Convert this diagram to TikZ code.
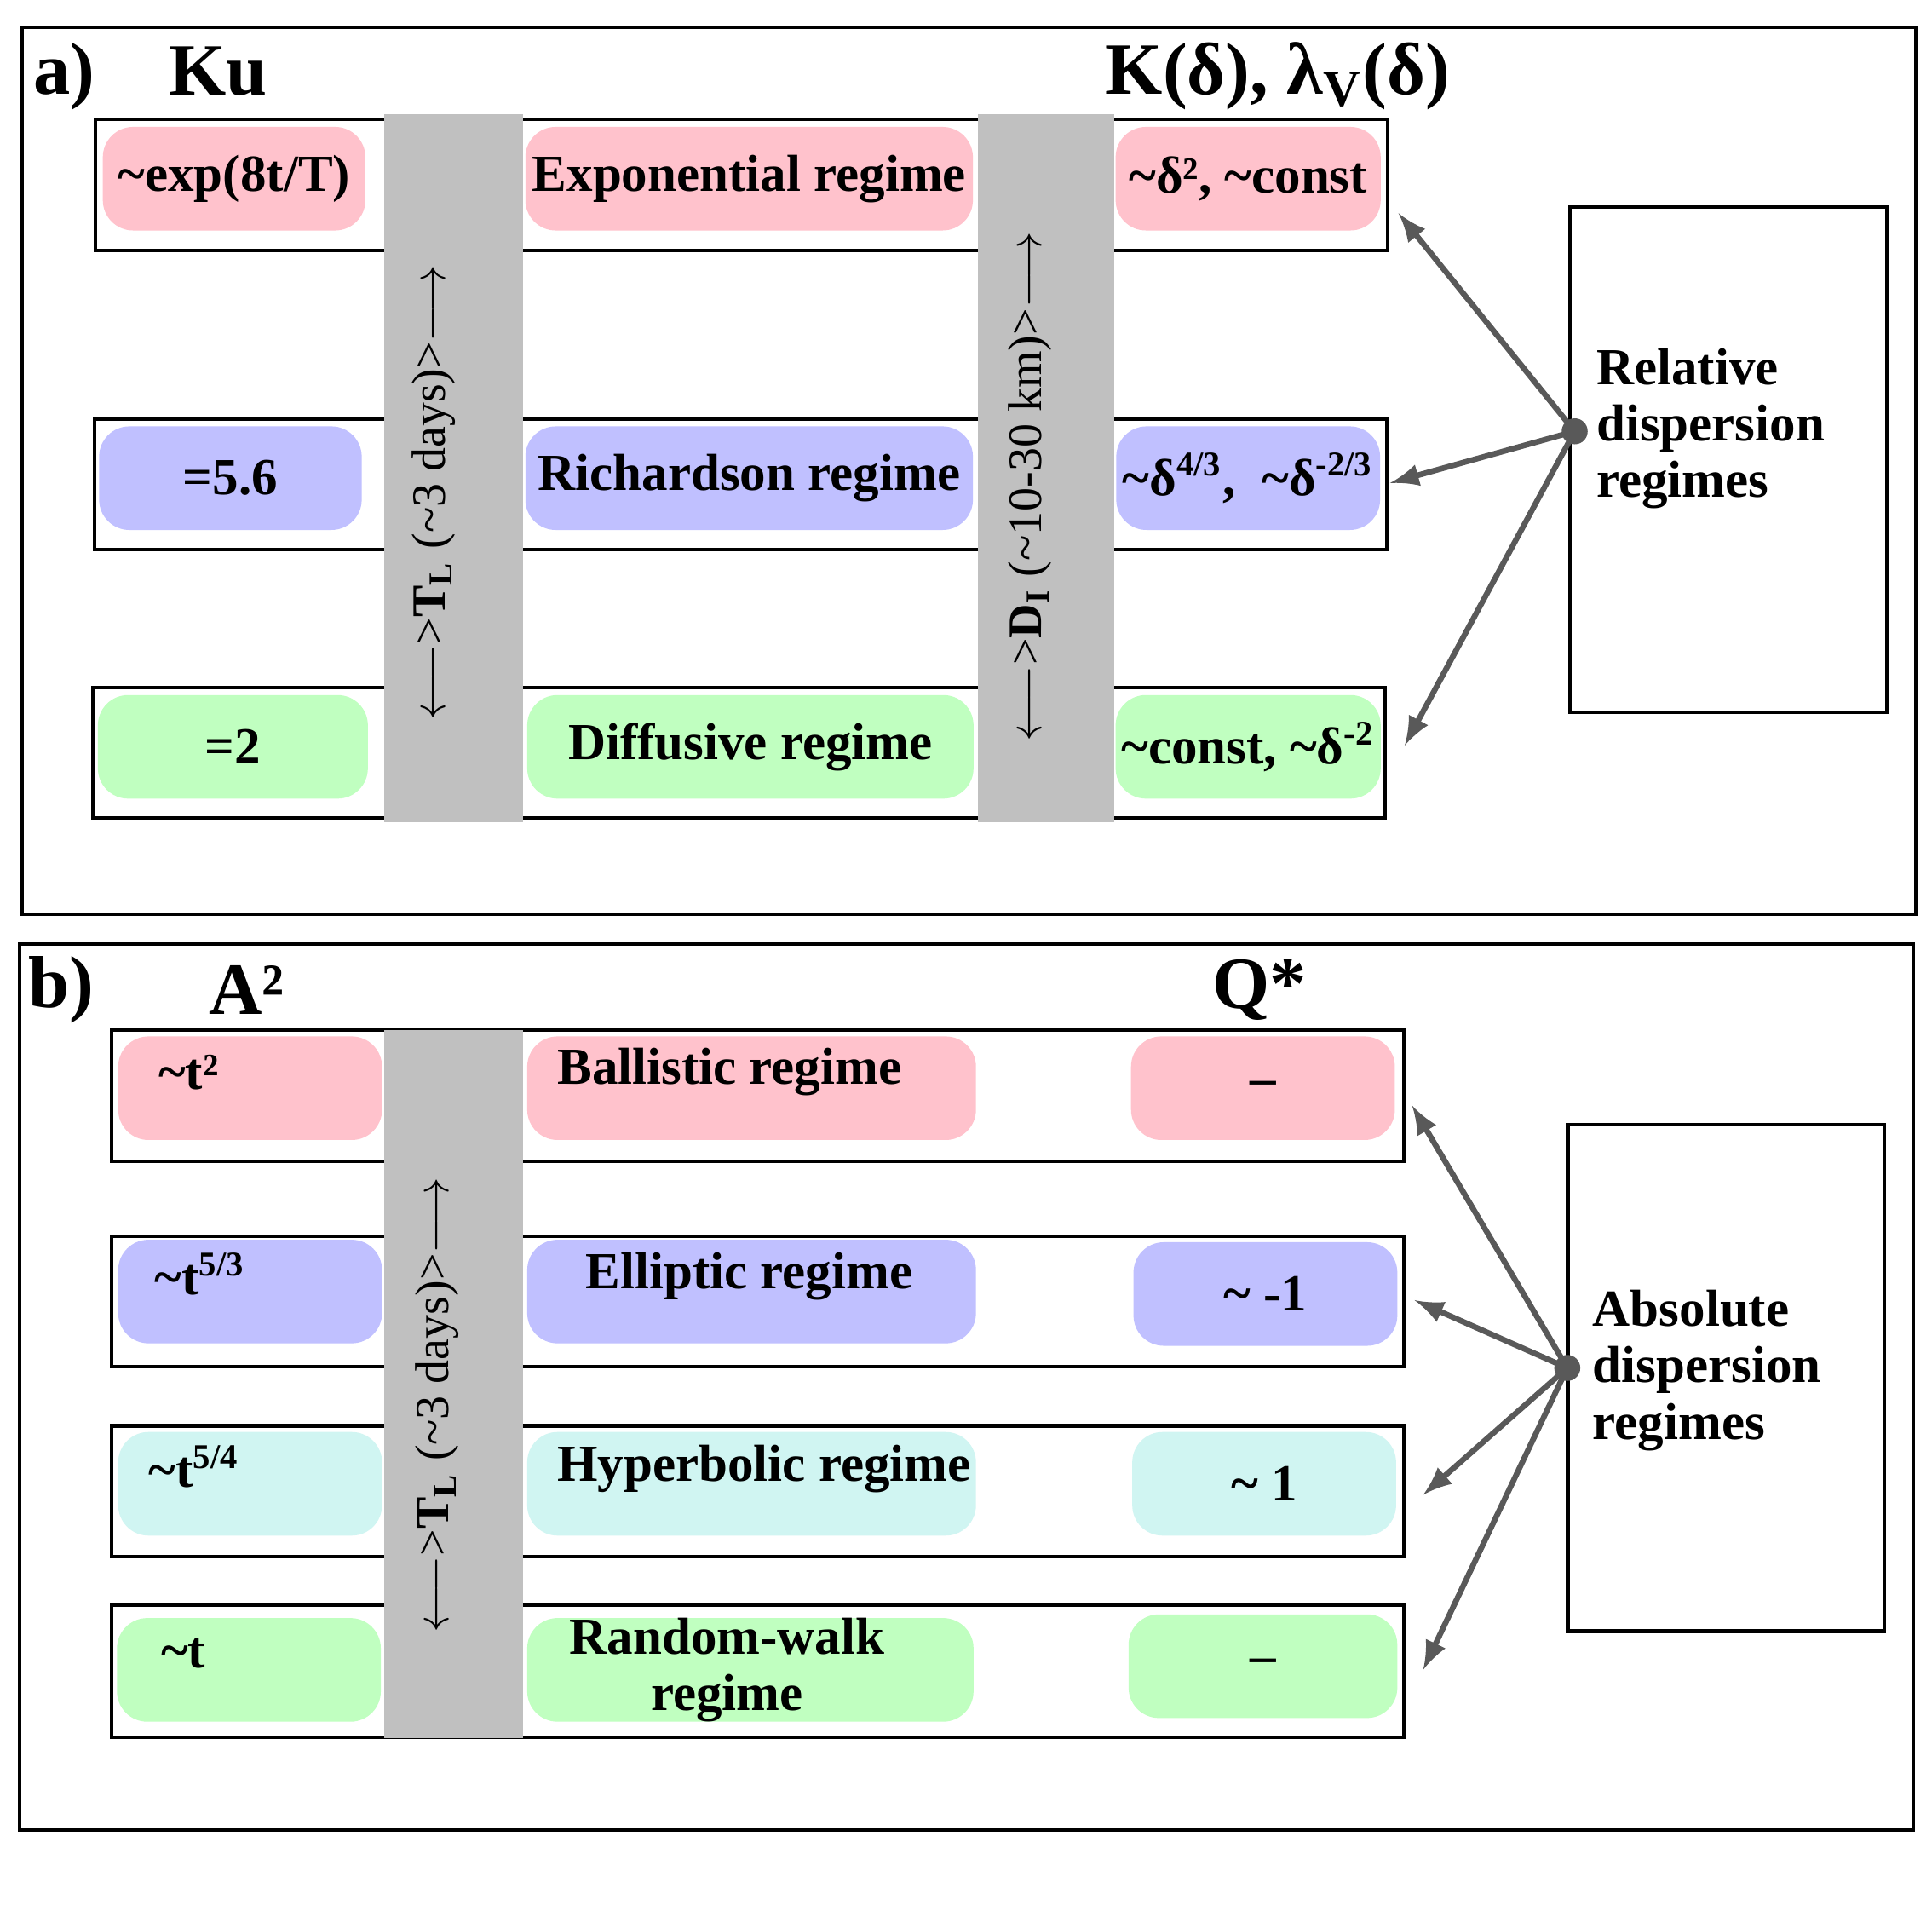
\documentclass[tikz,border=0pt]{standalone}
\usepackage{fontspec}
\setmainfont{Liberation Serif}
\usetikzlibrary{positioning}
\definecolor{rosa}{HTML}{FFC2CC}
\definecolor{azul}{HTML}{C0C0FF}
\definecolor{verde}{HTML}{C0FFC0}
\definecolor{cian}{HTML}{D0F5F2}
\definecolor{barra}{HTML}{C0C0C0}
\tikzstyle{Marco}=[draw=black, line width=0.8pt]
\tikzstyle{Fila}=[rectangle, draw=black, fill=white, line width=0.8pt, minimum width=10.48cm, minimum height=1.06cm, inner sep=0pt]
\tikzstyle{Barra}=[rectangle, fill=barra, minimum height=5.74cm, inner sep=0pt]
\tikzstyle{Caja}=[rectangle, rounded corners=7pt, minimum height=0.84cm, inner sep=0pt, font=\bfseries\fontsize{12}{13}\selectfont, align=center]
\tikzstyle{Titulo}=[font=\bfseries\fontsize{17}{18}\selectfont, inner sep=0pt]
\tikzstyle{Vertical}=[rotate=90, font=\fontsize{11}{12}\selectfont, inner sep=0pt]
\tikzstyle{Flecha}=[-latex, draw=black!65, line width=1.3pt]
\newcommand{\tld}{\textasciitilde}
\begin{document}
\begin{tikzpicture}[x=0.01cm, y=-0.01cm]
			\useasboundingbox (0,0) rectangle (1568,1560);
			\fill[white] (0,0) rectangle (1568,1560);
			%Marcos
			\draw[Marco] (18,22) rectangle (1555,742);
			\draw[Marco] (16,766) rectangle (1553,1485);

			%Panel a
			\node[Fila] (filaA1) at (602,150) {};
			\node[Fila] (filaA2) at (601,393) {};
			\node[Fila] (filaA3) at (600,611) {};
			\node[Barra, minimum width=1.13cm] (barraA1) at (368,380) {};
			\node[Barra, minimum width=1.10cm] (barraA2) at (849,380) {};

			\node[Caja, fill=rosa, minimum width=2.13cm] (kuA1) at (190,145) {\tld exp(8t/T)};
			\node[Caja, fill=rosa, minimum width=3.63cm] (regA1) at (608,145) {Exponential regime};
			\node[Caja, fill=rosa, minimum width=2.15cm] (kA1) at (1013,145) {\tld δ², \tld const};

			\node[Caja, fill=azul, minimum width=2.13cm] (kuA2) at (187,388) {=5.6};
			\node[Caja, fill=azul, minimum width=3.63cm] (regA2) at (608,388) {Richardson regime};
			\node[Caja, fill=azul, minimum width=2.14cm] (kA2) at (1013,388) {\tld δ\textsuperscript{4/3}, \ \tld δ\textsuperscript{-2/3}};

			\node[Caja, fill=verde, minimum width=2.19cm] (kuA3) at (189,606) {=2};
			\node[Caja, fill=verde, minimum width=3.62cm] (regA3) at (609,606) {Diffusive regime};
			\node[Caja, fill=verde, minimum width=2.15cm] (kA3) at (1013,606) {\tld const, \tld δ\textsuperscript{-2}};

			\node[Vertical] (tlA) at (352,400) {$\longleftarrow$>\textbf{T\textsubscript{L}} (\tld 3 days)>$\longrightarrow$};
			\node[Vertical] (dlA) at (836,395) {$\longleftarrow$>\textbf{D\textsubscript{I}} (\tld 10-30 km)>$\longrightarrow$};

			\node[Titulo] (etqA) at (52,62) {a)};
			\node[Titulo] (kuA) at (177,58) {Ku};
			\node[Titulo] (kA) at (1037,62) {K(δ), λ\textsubscript{V}(δ)};

			\node[Marco, rectangle, minimum width=2.57cm, minimum height=4.10cm, inner sep=0pt] (relA) at (1403,373) {};
			\node[Caja, align=left, anchor=west] (relTxt) at (1295,348) {Relative\\dispersion\\regimes};
			\coordinate (hubA) at (1278,350);
			\coordinate (dstA1) at (1135,173);
			\coordinate (dstA2) at (1128,392);
			\coordinate (dstA3) at (1140,605);

			%Panel b
			\node[Fila] (filaB1) at (615,889) {};
			\node[Fila] (filaB2) at (615,1056) {};
			\node[Fila] (filaB3) at (615,1210) {};
			\node[Fila, minimum height=1.07cm] (filaB4) at (615,1356) {};
			\node[Barra, minimum width=1.13cm] (barraB) at (368,1123) {};

			\node[Caja, fill=rosa, minimum width=2.14cm] (aB1) at (203,883) {};
			\node[Caja, anchor=west] (aTxt1) at (128,870) {\tld t²};
			\node[Caja, fill=rosa, minimum width=3.64cm] (regB1) at (610,883) {};
			\node[Caja] (regTxt1) at (592,870) {Ballistic regime};
			\node[Caja, fill=rosa, minimum width=2.14cm] (qB1) at (1025,883) {–};

			\node[Caja, fill=azul, minimum width=2.14cm] (aB2) at (203,1048) {};
			\node[Caja, anchor=west] (aTxt2) at (125,1034) {\tld t\textsuperscript{5/3}};
			\node[Caja, fill=azul, minimum width=3.64cm] (regB2) at (610,1048) {};
			\node[Caja] (regTxt2) at (608,1036) {Elliptic regime};
			\node[Caja, fill=azul, minimum width=2.14cm] (qB2) at (1027,1050) {\tld{} -1};

			\node[Caja, fill=cian, minimum width=2.14cm] (aB3) at (203,1204) {};
			\node[Caja, anchor=west] (aTxt3) at (120,1190) {\tld t\textsuperscript{5/4}};
			\node[Caja, fill=cian, minimum width=3.64cm] (regB3) at (610,1204) {};
			\node[Caja] (regTxt3) at (620,1192) {Hyperbolic regime};
			\node[Caja, fill=cian, minimum width=2.14cm] (qB3) at (1026,1204) {\tld{} 1};

			\node[Caja, fill=verde, minimum width=2.14cm] (aB4) at (202,1355) {};
			\node[Caja, anchor=west] (aTxt4) at (130,1342) {\tld t};
			\node[Caja, fill=verde, minimum width=3.62cm] (regB4) at (609,1355) {};
			\node[Caja] (regTxt4) at (590,1355) {Random-walk\\regime};
			\node[Caja, fill=verde, minimum width=2.18cm] (qB4) at (1025,1352) {–};

			\node[Vertical] (tlB) at (355,1140) {$\longleftarrow$>\textbf{T\textsubscript{L}} (\tld 3 days)>$\longrightarrow$};

			\node[Titulo] (etqB) at (50,803) {b)};
			\node[Titulo] (aB) at (200,803) {A²};
			\node[Titulo] (qB) at (1022,803) {Q*};

			\node[Marco, rectangle, minimum width=2.57cm, minimum height=4.11cm, inner sep=0pt] (absB) at (1401,1118) {};
			\node[Caja, align=left, anchor=west] (absTxt) at (1292,1112) {Absolute\\dispersion\\regimes};
			\coordinate (hubB) at (1272,1110);
			\coordinate (dstB1) at (1146,897);
			\coordinate (dstB2) at (1148,1055);
			\coordinate (dstB3) at (1155,1213);
			\coordinate (dstB4) at (1155,1355);

			%Lineas
			\foreach \d in {dstA1,dstA2,dstA3} \draw[Flecha] (hubA) -- (\d);
			\foreach \d in {dstB1,dstB2,dstB3,dstB4} \draw[Flecha] (hubB) -- (\d);
			\fill[black!65] (hubA) circle (3pt);
			\fill[black!65] (hubB) circle (3pt);
\end{tikzpicture}
\end{document}
